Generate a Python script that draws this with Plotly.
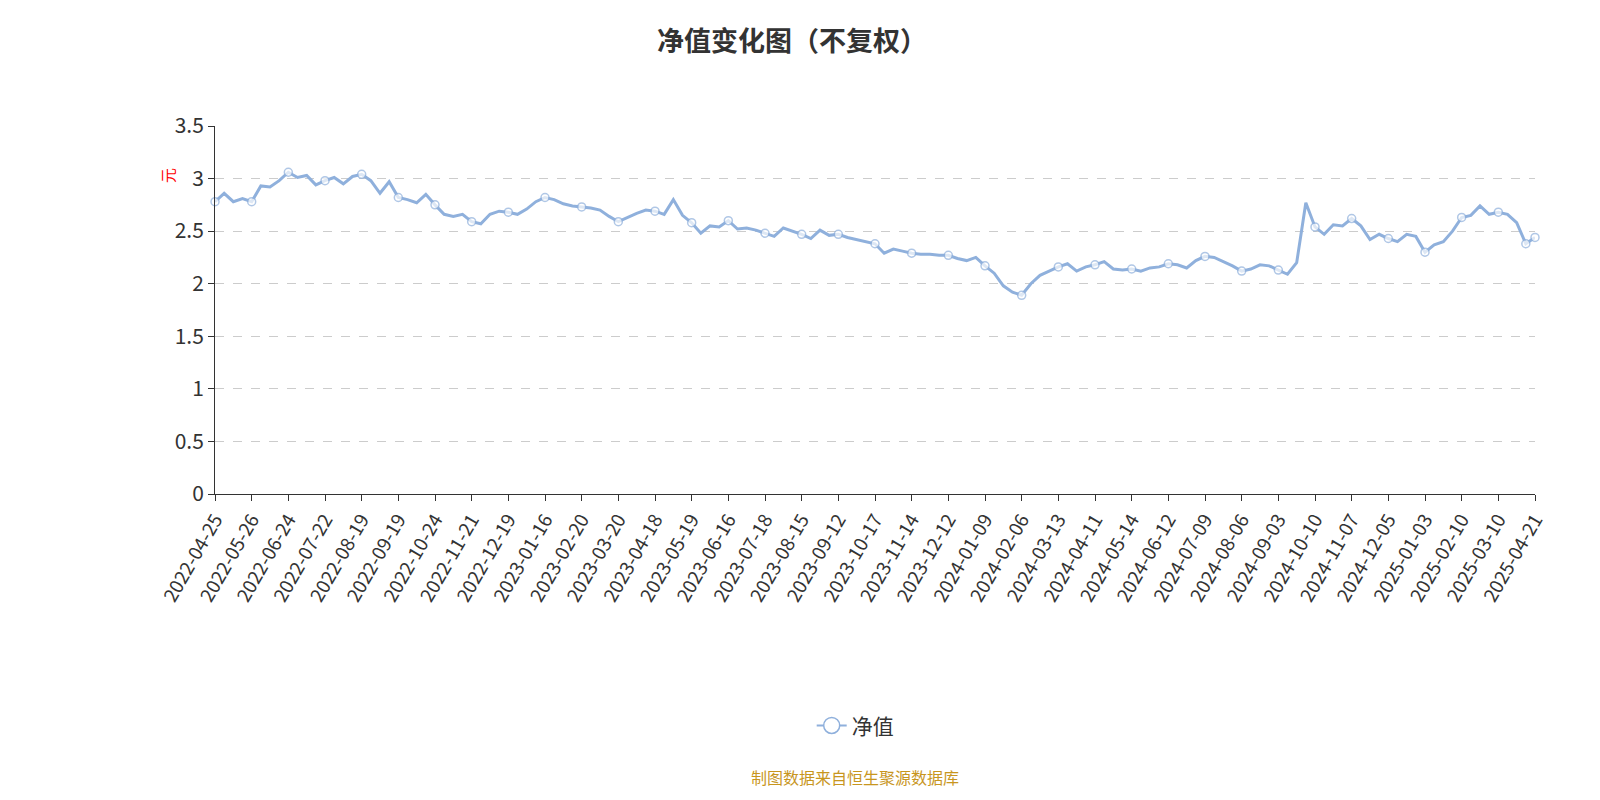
import plotly.graph_objects as go

tick_dates = ["2022-04-25", "2022-05-26", "2022-06-24", "2022-07-22", "2022-08-19", "2022-09-19",
              "2022-10-24", "2022-11-21", "2022-12-19", "2023-01-16", "2023-02-20", "2023-03-20",
              "2023-04-18", "2023-05-19", "2023-06-16", "2023-07-18", "2023-08-15", "2023-09-12",
              "2023-10-17", "2023-11-14", "2023-12-12", "2024-01-09", "2024-02-06", "2024-03-13",
              "2024-04-11", "2024-05-14", "2024-06-12", "2024-07-09", "2024-08-06", "2024-09-03",
              "2024-10-10", "2024-11-07", "2024-12-05", "2025-01-03", "2025-02-10", "2025-03-10",
              "2025-04-21"]

# net value sampled four times per tick interval (first of each group = tick date)
nav = [
    2.78, 2.86, 2.78, 2.81,
    2.78, 2.93, 2.92, 2.98,
    3.06, 3.01, 3.03, 2.94,
    2.98, 3.01, 2.95, 3.02,
    3.04, 2.98, 2.86, 2.97,
    2.82, 2.80, 2.77, 2.85,
    2.75, 2.66, 2.64, 2.66,
    2.59, 2.57, 2.66, 2.69,
    2.68, 2.66, 2.71, 2.78,
    2.82, 2.80, 2.76, 2.74,
    2.73, 2.72, 2.70, 2.64,
    2.59, 2.63, 2.67, 2.70,
    2.69, 2.66, 2.80, 2.65,
    2.58, 2.48, 2.55, 2.54,
    2.60, 2.52, 2.53, 2.51,
    2.48, 2.45, 2.53, 2.50,
    2.47, 2.43, 2.51, 2.46,
    2.47, 2.44, 2.42, 2.40,
    2.38, 2.29, 2.33, 2.31,
    2.29, 2.28, 2.28, 2.27,
    2.27, 2.24, 2.22, 2.25,
    2.17, 2.10, 1.98, 1.92,
    1.89, 2.00, 2.08, 2.12,
    2.16, 2.19, 2.12, 2.16,
    2.18, 2.21, 2.14, 2.13,
    2.14, 2.12, 2.15, 2.16,
    2.19, 2.18, 2.15, 2.22,
    2.26, 2.25, 2.21, 2.17,
    2.12, 2.14, 2.18, 2.17,
    2.13, 2.09, 2.20, 2.77,
    2.54, 2.47, 2.56, 2.55,
    2.62, 2.55, 2.42, 2.47,
    2.43, 2.40, 2.47, 2.45,
    2.30, 2.37, 2.40, 2.50,
    2.63, 2.65, 2.74, 2.66,
    2.68, 2.66, 2.58, 2.38,
    2.44,
]

color = "#8fb0dc"
x = list(range(len(nav)))
sizes = [8 if (i % 4 == 0 or i == len(nav) - 2) else 0 for i in x]

fig = go.Figure()
fig.add_trace(go.Scatter(
    x=x, y=nav, mode="lines+markers", name="净值", showlegend=False,
    line=dict(color=color, width=3),
    marker=dict(size=sizes, color="white", line=dict(color=color, width=1.5)),
    cliponaxis=False,
))
# legend entry
fig.add_trace(go.Scatter(
    x=[None], y=[None], mode="lines+markers", name="净值",
    line=dict(color=color, width=2),
    marker=dict(size=16, color="white", line=dict(color=color, width=1.5)),
))

fig.update_layout(
    width=1600, height=800,
    paper_bgcolor="white", plot_bgcolor="white",
    font=dict(family="Noto Sans CJK SC", color="#333"),
    title=dict(text="<b>净值变化图（不复权）</b>", x=0.49, y=0.97, xanchor="center",
               font=dict(size=27, color="#333")),
    margin=dict(l=207, r=73, t=118, b=314),
    legend=dict(orientation="h", x=0.485, xanchor="center", y=-0.63, yanchor="middle",
                font=dict(size=21)),
    xaxis=dict(range=[0, len(nav) - 1], tickvals=[i * 4 for i in range(len(tick_dates))],
               ticktext=tick_dates, tickangle=-60, tickfont=dict(size=19),
               showline=True, linecolor="#333", ticks="outside", ticklen=6,
               tickcolor="#333", showgrid=False, zeroline=False),
    yaxis=dict(range=[0, 3.5], dtick=0.5, tickfont=dict(size=21),
               showline=True, linecolor="#333", ticks="outside", ticklen=6,
               tickcolor="#333", gridcolor="#ccc", griddash="dash", zeroline=False),
    annotations=[
        dict(text="元", xref="paper", yref="paper", x=-0.045, y=0.89, textangle=-90,
             showarrow=False, font=dict(size=15, color="red")),
        dict(text="制图数据来自恒生聚源数据库", xref="paper", yref="paper",
             x=0.485, y=-0.77, xanchor="center", yanchor="middle", showarrow=False,
             font=dict(size=16, color="#c8961e")),
    ],
)

fig.write_html("out.html")
